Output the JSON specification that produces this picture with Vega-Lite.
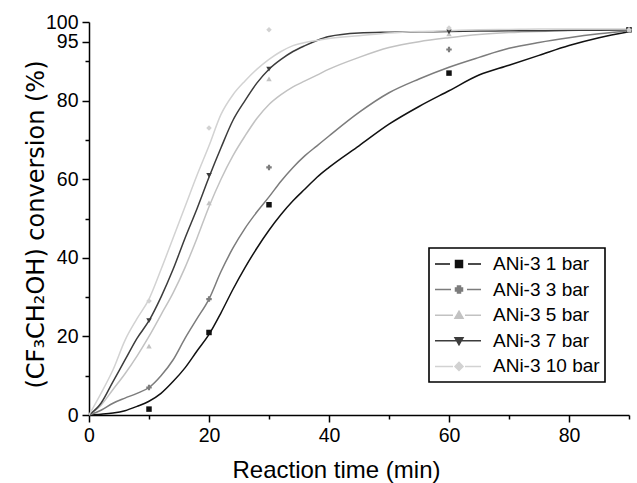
{
  "$schema": "https://vega.github.io/schema/vega-lite/v6.json",
  "width": 540,
  "height": 393,
  "autosize": "none",
  "padding": {"left": 89, "top": 22, "right": 8, "bottom": 68},
  "background": "white",
  "config": {
    "view": {"stroke": null},
    "font": "Liberation Sans",
    "axis": {
      "grid": false,
      "domainColor": "black",
      "domainWidth": 1.5,
      "tickColor": "black",
      "tickWidth": 1.5,
      "labelColor": "black",
      "labelFont": "Liberation Sans",
      "labelFontSize": 19.5,
      "titleColor": "black",
      "titleFontWeight": "normal",
      "labelOverlap": false,
      "labelBound": false,
      "labelFlush": false
    }
  },
  "datasets": {
    "curves": [
      {"series": "ANi-3 1 bar", "t": 0, "conv": 0}, {"series": "ANi-3 1 bar", "t": 2, "conv": 0.2}, {"series": "ANi-3 1 bar", "t": 4, "conv": 0.5}, {"series": "ANi-3 1 bar", "t": 6, "conv": 1.1}, {"series": "ANi-3 1 bar", "t": 8, "conv": 2.2}, {"series": "ANi-3 1 bar", "t": 10, "conv": 3.5}, {"series": "ANi-3 1 bar", "t": 12, "conv": 5.5}, {"series": "ANi-3 1 bar", "t": 14, "conv": 8.5}, {"series": "ANi-3 1 bar", "t": 16, "conv": 12}, {"series": "ANi-3 1 bar", "t": 18, "conv": 16.3}, {"series": "ANi-3 1 bar", "t": 20, "conv": 20.5}, {"series": "ANi-3 1 bar", "t": 22, "conv": 26}, {"series": "ANi-3 1 bar", "t": 24, "conv": 32}, {"series": "ANi-3 1 bar", "t": 26, "conv": 37.5}, {"series": "ANi-3 1 bar", "t": 28, "conv": 42.5}, {"series": "ANi-3 1 bar", "t": 30, "conv": 47}, {"series": "ANi-3 1 bar", "t": 32, "conv": 51}, {"series": "ANi-3 1 bar", "t": 34, "conv": 54.5}, {"series": "ANi-3 1 bar", "t": 36, "conv": 57.5}, {"series": "ANi-3 1 bar", "t": 38, "conv": 60.5}, {"series": "ANi-3 1 bar", "t": 40, "conv": 63}, {"series": "ANi-3 1 bar", "t": 45, "conv": 68.5}, {"series": "ANi-3 1 bar", "t": 50, "conv": 74}, {"series": "ANi-3 1 bar", "t": 55, "conv": 78.5}, {"series": "ANi-3 1 bar", "t": 60, "conv": 82.5}, {"series": "ANi-3 1 bar", "t": 65, "conv": 86.5}, {"series": "ANi-3 1 bar", "t": 70, "conv": 89}, {"series": "ANi-3 1 bar", "t": 75, "conv": 91.5}, {"series": "ANi-3 1 bar", "t": 80, "conv": 94}, {"series": "ANi-3 1 bar", "t": 85, "conv": 96}, {"series": "ANi-3 1 bar", "t": 90, "conv": 97.5},
      {"series": "ANi-3 3 bar", "t": 0, "conv": 0}, {"series": "ANi-3 3 bar", "t": 2, "conv": 1.2}, {"series": "ANi-3 3 bar", "t": 4, "conv": 3}, {"series": "ANi-3 3 bar", "t": 6, "conv": 4.3}, {"series": "ANi-3 3 bar", "t": 8, "conv": 5.5}, {"series": "ANi-3 3 bar", "t": 10, "conv": 7}, {"series": "ANi-3 3 bar", "t": 12, "conv": 10}, {"series": "ANi-3 3 bar", "t": 14, "conv": 14}, {"series": "ANi-3 3 bar", "t": 16, "conv": 19.5}, {"series": "ANi-3 3 bar", "t": 18, "conv": 24.5}, {"series": "ANi-3 3 bar", "t": 20, "conv": 29.5}, {"series": "ANi-3 3 bar", "t": 22, "conv": 36.5}, {"series": "ANi-3 3 bar", "t": 24, "conv": 42.5}, {"series": "ANi-3 3 bar", "t": 26, "conv": 47.5}, {"series": "ANi-3 3 bar", "t": 28, "conv": 51.7}, {"series": "ANi-3 3 bar", "t": 30, "conv": 55.5}, {"series": "ANi-3 3 bar", "t": 32, "conv": 59.5}, {"series": "ANi-3 3 bar", "t": 34, "conv": 63}, {"series": "ANi-3 3 bar", "t": 36, "conv": 66}, {"series": "ANi-3 3 bar", "t": 38, "conv": 68.5}, {"series": "ANi-3 3 bar", "t": 40, "conv": 71}, {"series": "ANi-3 3 bar", "t": 45, "conv": 77}, {"series": "ANi-3 3 bar", "t": 50, "conv": 82}, {"series": "ANi-3 3 bar", "t": 55, "conv": 85.5}, {"series": "ANi-3 3 bar", "t": 60, "conv": 88.5}, {"series": "ANi-3 3 bar", "t": 65, "conv": 91}, {"series": "ANi-3 3 bar", "t": 70, "conv": 93.3}, {"series": "ANi-3 3 bar", "t": 75, "conv": 94.8}, {"series": "ANi-3 3 bar", "t": 80, "conv": 96}, {"series": "ANi-3 3 bar", "t": 85, "conv": 97}, {"series": "ANi-3 3 bar", "t": 90, "conv": 97.8},
      {"series": "ANi-3 5 bar", "t": 0, "conv": 0}, {"series": "ANi-3 5 bar", "t": 2, "conv": 2.5}, {"series": "ANi-3 5 bar", "t": 4, "conv": 6.5}, {"series": "ANi-3 5 bar", "t": 6, "conv": 10.5}, {"series": "ANi-3 5 bar", "t": 8, "conv": 15}, {"series": "ANi-3 5 bar", "t": 10, "conv": 20}, {"series": "ANi-3 5 bar", "t": 12, "conv": 25.5}, {"series": "ANi-3 5 bar", "t": 14, "conv": 31}, {"series": "ANi-3 5 bar", "t": 16, "conv": 37.5}, {"series": "ANi-3 5 bar", "t": 18, "conv": 45}, {"series": "ANi-3 5 bar", "t": 20, "conv": 53}, {"series": "ANi-3 5 bar", "t": 22, "conv": 60}, {"series": "ANi-3 5 bar", "t": 24, "conv": 66}, {"series": "ANi-3 5 bar", "t": 26, "conv": 71}, {"series": "ANi-3 5 bar", "t": 28, "conv": 75.5}, {"series": "ANi-3 5 bar", "t": 30, "conv": 79}, {"series": "ANi-3 5 bar", "t": 32, "conv": 81.5}, {"series": "ANi-3 5 bar", "t": 34, "conv": 83.5}, {"series": "ANi-3 5 bar", "t": 36, "conv": 85}, {"series": "ANi-3 5 bar", "t": 38, "conv": 86.5}, {"series": "ANi-3 5 bar", "t": 40, "conv": 88}, {"series": "ANi-3 5 bar", "t": 45, "conv": 91}, {"series": "ANi-3 5 bar", "t": 50, "conv": 93.5}, {"series": "ANi-3 5 bar", "t": 55, "conv": 95}, {"series": "ANi-3 5 bar", "t": 60, "conv": 96}, {"series": "ANi-3 5 bar", "t": 65, "conv": 96.8}, {"series": "ANi-3 5 bar", "t": 70, "conv": 97.3}, {"series": "ANi-3 5 bar", "t": 75, "conv": 97.6}, {"series": "ANi-3 5 bar", "t": 80, "conv": 97.8}, {"series": "ANi-3 5 bar", "t": 85, "conv": 98}, {"series": "ANi-3 5 bar", "t": 90, "conv": 98},
      {"series": "ANi-3 7 bar", "t": 0, "conv": 0}, {"series": "ANi-3 7 bar", "t": 2, "conv": 3}, {"series": "ANi-3 7 bar", "t": 4, "conv": 8.5}, {"series": "ANi-3 7 bar", "t": 6, "conv": 14}, {"series": "ANi-3 7 bar", "t": 8, "conv": 19.5}, {"series": "ANi-3 7 bar", "t": 10, "conv": 24}, {"series": "ANi-3 7 bar", "t": 12, "conv": 30}, {"series": "ANi-3 7 bar", "t": 14, "conv": 37}, {"series": "ANi-3 7 bar", "t": 16, "conv": 45}, {"series": "ANi-3 7 bar", "t": 18, "conv": 52.5}, {"series": "ANi-3 7 bar", "t": 20, "conv": 60.5}, {"series": "ANi-3 7 bar", "t": 22, "conv": 68}, {"series": "ANi-3 7 bar", "t": 24, "conv": 75}, {"series": "ANi-3 7 bar", "t": 26, "conv": 80}, {"series": "ANi-3 7 bar", "t": 28, "conv": 84.5}, {"series": "ANi-3 7 bar", "t": 30, "conv": 88}, {"series": "ANi-3 7 bar", "t": 32, "conv": 90.5}, {"series": "ANi-3 7 bar", "t": 34, "conv": 92.5}, {"series": "ANi-3 7 bar", "t": 36, "conv": 94}, {"series": "ANi-3 7 bar", "t": 38, "conv": 95.3}, {"series": "ANi-3 7 bar", "t": 40, "conv": 96.3}, {"series": "ANi-3 7 bar", "t": 45, "conv": 97.2}, {"series": "ANi-3 7 bar", "t": 50, "conv": 97.4}, {"series": "ANi-3 7 bar", "t": 55, "conv": 97.5}, {"series": "ANi-3 7 bar", "t": 60, "conv": 97.6}, {"series": "ANi-3 7 bar", "t": 65, "conv": 97.7}, {"series": "ANi-3 7 bar", "t": 70, "conv": 97.8}, {"series": "ANi-3 7 bar", "t": 75, "conv": 97.8}, {"series": "ANi-3 7 bar", "t": 80, "conv": 97.9}, {"series": "ANi-3 7 bar", "t": 85, "conv": 97.9}, {"series": "ANi-3 7 bar", "t": 90, "conv": 98},
      {"series": "ANi-3 10 bar", "t": 0, "conv": 0}, {"series": "ANi-3 10 bar", "t": 2, "conv": 5.5}, {"series": "ANi-3 10 bar", "t": 4, "conv": 11.5}, {"series": "ANi-3 10 bar", "t": 6, "conv": 19}, {"series": "ANi-3 10 bar", "t": 8, "conv": 24.5}, {"series": "ANi-3 10 bar", "t": 10, "conv": 29.5}, {"series": "ANi-3 10 bar", "t": 12, "conv": 37}, {"series": "ANi-3 10 bar", "t": 14, "conv": 45}, {"series": "ANi-3 10 bar", "t": 16, "conv": 53}, {"series": "ANi-3 10 bar", "t": 18, "conv": 61}, {"series": "ANi-3 10 bar", "t": 20, "conv": 68.5}, {"series": "ANi-3 10 bar", "t": 22, "conv": 76.5}, {"series": "ANi-3 10 bar", "t": 24, "conv": 81.5}, {"series": "ANi-3 10 bar", "t": 26, "conv": 85}, {"series": "ANi-3 10 bar", "t": 28, "conv": 88}, {"series": "ANi-3 10 bar", "t": 30, "conv": 90.5}, {"series": "ANi-3 10 bar", "t": 32, "conv": 92.5}, {"series": "ANi-3 10 bar", "t": 34, "conv": 94}, {"series": "ANi-3 10 bar", "t": 36, "conv": 94.8}, {"series": "ANi-3 10 bar", "t": 38, "conv": 95.3}, {"series": "ANi-3 10 bar", "t": 40, "conv": 95.8}, {"series": "ANi-3 10 bar", "t": 45, "conv": 96.5}, {"series": "ANi-3 10 bar", "t": 50, "conv": 97.2}, {"series": "ANi-3 10 bar", "t": 55, "conv": 97.6}, {"series": "ANi-3 10 bar", "t": 60, "conv": 97.8}, {"series": "ANi-3 10 bar", "t": 65, "conv": 98}, {"series": "ANi-3 10 bar", "t": 70, "conv": 98.1}, {"series": "ANi-3 10 bar", "t": 75, "conv": 98.2}, {"series": "ANi-3 10 bar", "t": 80, "conv": 98.2}, {"series": "ANi-3 10 bar", "t": 85, "conv": 98.2}, {"series": "ANi-3 10 bar", "t": 90, "conv": 98.2}
    ],
    "markers": [
      {"series": "ANi-3 1 bar", "t": 10, "conv": 1.5}, {"series": "ANi-3 1 bar", "t": 20, "conv": 21}, {"series": "ANi-3 1 bar", "t": 30, "conv": 53.5}, {"series": "ANi-3 1 bar", "t": 60, "conv": 87}, {"series": "ANi-3 1 bar", "t": 90, "conv": 98},
      {"series": "ANi-3 3 bar", "t": 10, "conv": 7}, {"series": "ANi-3 3 bar", "t": 20, "conv": 29.5}, {"series": "ANi-3 3 bar", "t": 30, "conv": 63}, {"series": "ANi-3 3 bar", "t": 60, "conv": 93}, {"series": "ANi-3 3 bar", "t": 90, "conv": 98},
      {"series": "ANi-3 5 bar", "t": 10, "conv": 17.5}, {"series": "ANi-3 5 bar", "t": 20, "conv": 54}, {"series": "ANi-3 5 bar", "t": 30, "conv": 85.5}, {"series": "ANi-3 5 bar", "t": 60, "conv": 97}, {"series": "ANi-3 5 bar", "t": 90, "conv": 98},
      {"series": "ANi-3 7 bar", "t": 10, "conv": 24}, {"series": "ANi-3 7 bar", "t": 20, "conv": 61}, {"series": "ANi-3 7 bar", "t": 30, "conv": 88}, {"series": "ANi-3 7 bar", "t": 60, "conv": 97.5}, {"series": "ANi-3 7 bar", "t": 90, "conv": 98},
      {"series": "ANi-3 10 bar", "t": 10, "conv": 29}, {"series": "ANi-3 10 bar", "t": 20, "conv": 73}, {"series": "ANi-3 10 bar", "t": 30, "conv": 98}, {"series": "ANi-3 10 bar", "t": 60, "conv": 98.5}, {"series": "ANi-3 10 bar", "t": 90, "conv": 98}
    ],
    "threshold": [{"level": 95}]
  },
  "encoding": {
    "x": {
      "field": "t", "type": "quantitative",
      "scale": {"domain": [0, 90], "nice": false, "zero": false},
      "axis": {
        "title": "Reaction time (min)",
        "values": [0, 10, 20, 30, 40, 50, 60, 70, 80, 90],
        "labelExpr": "datum.value % 20 === 10 ? '' : datum.label",
        "tickSize": {"condition": {"test": "datum.value % 20 === 10", "value": 4}, "value": 7},
        "labelPadding": 4,
        "titleFont": "Liberation Sans",
        "titleFontSize": 24,
        "titleX": 247,
        "titleY": 62,
        "titleAlign": "center",
        "titleBaseline": "alphabetic"
      }
    },
    "y": {
      "field": "conv", "type": "quantitative",
      "scale": {"domain": [0, 100], "nice": false, "zero": false},
      "axis": {
        "title": "(CF₃CH₂OH) conversion (%)",
        "values": [0, 10, 20, 30, 40, 50, 60, 70, 80, 90, 95, 100],
        "labelExpr": "datum.value % 20 === 10 ? '' : datum.label",
        "tickSize": {"condition": {"test": "datum.value % 20 === 10", "value": 4}, "value": 7},
        "labelPadding": 4,
        "titleFont": "DejaVu Sans",
        "titleFontSize": 24,
        "titleAngle": 270,
        "titleX": -46,
        "titleY": 202,
        "titleAlign": "center",
        "titleBaseline": "alphabetic"
      }
    },
    "color": {
      "field": "series", "type": "nominal",
      "scale": {
        "domain": ["ANi-3 1 bar", "ANi-3 3 bar", "ANi-3 5 bar", "ANi-3 7 bar", "ANi-3 10 bar"],
        "range": ["#111111", "#7c7c7c", "#c2c2c2", "#3c3c3c", "#d2d2d2"]
      },
      "legend": {
        "title": null,
        "orient": "none",
        "legendX": 340,
        "legendY": 226,
        "padding": 5,
        "strokeColor": "black",
        "fillColor": "white",
        "labelFont": "Liberation Sans",
        "labelFontSize": 19,
        "labelColor": "black",
        "symbolSize": 400,
        "symbolStrokeWidth": 1.5,
        "rowPadding": 4.6,
        "labelOffset": 37,
        "symbolOpacity": 1,
        "encode": {
          "legend": {"update": {"strokeWidth": {"value": 1.6}}},
          "symbols": {
            "update": {
              "shape": {"signal": "datum.value === 'ANi-3 1 bar' ? 'M-1,0H0.5M2.3,0H3.6M1.05,-0.35H1.75V0.35H1.05Z' : datum.value === 'ANi-3 3 bar' ? 'M-1,0H0.6M2.2,0H3.6M1.25,-0.35H1.55V-0.15H1.75V0.15H1.55V0.35H1.25V0.15H1.05V-0.15H1.25Z' : datum.value === 'ANi-3 5 bar' ? 'M-1,0H0.8M2,0H3.6M1.4,-0.4L1.8,0.3H1Z' : datum.value === 'ANi-3 7 bar' ? 'M-1,0H3.6M1,-0.3H1.8L1.4,0.4Z' : 'M-1,0H0.8M2,0H3.6M1.4,-0.4L1.8,0L1.4,0.4L1,0Z'"},
              "fill": {"scale": "color", "field": "value"},
              "stroke": {"scale": "color", "field": "value"},
              "strokeWidth": {"value": 1.5},
              "opacity": {"value": 1}
            }
          }
        }
      }
    }
  },
  "layer": [
    {
      "data": {"name": "threshold"},
      "mark": {"type": "rule", "color": "#5a5a5a", "strokeWidth": 1.2, "strokeDash": [3, 1.5]},
      "encoding": {"y": {"field": "level", "type": "quantitative"}, "x": {"datum": 0}, "x2": {"datum": 90}, "color": {"value": "#5a5a5a"}}
    },
    {
      "data": {"name": "curves"},
      "mark": {"type": "line", "strokeWidth": 1.5, "interpolate": "monotone"},
      "encoding": {"detail": {"field": "series"}}
    },
    {
      "data": {"name": "markers"},
      "transform": [{"filter": {"field": "series", "equal": "ANi-3 1 bar"}}],
      "mark": {"type": "point", "filled": true, "size": 30, "opacity": 1, "shape": "square"}
    },
    {
      "data": {"name": "markers"},
      "transform": [{"filter": {"field": "series", "equal": "ANi-3 3 bar"}}],
      "mark": {"type": "point", "filled": true, "size": 30, "opacity": 1, "shape": "cross"}
    },
    {
      "data": {"name": "markers"},
      "transform": [{"filter": {"field": "series", "equal": "ANi-3 5 bar"}}],
      "mark": {"type": "point", "filled": true, "size": 30, "opacity": 1, "shape": "triangle-up"}
    },
    {
      "data": {"name": "markers"},
      "transform": [{"filter": {"field": "series", "equal": "ANi-3 7 bar"}}],
      "mark": {"type": "point", "filled": true, "size": 30, "opacity": 1, "shape": "triangle-down"}
    },
    {
      "data": {"name": "markers"},
      "transform": [{"filter": {"field": "series", "equal": "ANi-3 10 bar"}}],
      "mark": {"type": "point", "filled": true, "size": 30, "opacity": 1, "shape": "diamond"}
    }
  ]
}
